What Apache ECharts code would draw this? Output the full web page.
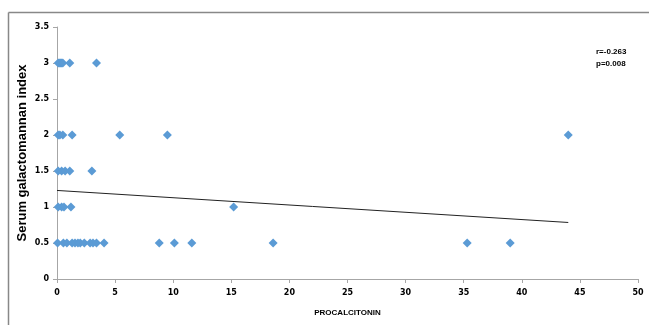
<!DOCTYPE html>
<html>
<head>
<meta charset="utf-8">
<script src="https://cdn.jsdelivr.net/npm/echarts@6/dist/echarts.min.js"></script>
<style>
html,body{margin:0;padding:0;background:#fff;}
#c{width:649px;height:325px;}
</style>
</head>
<body>
<div id="c"></div>
<script>
// Procalcitonin values grouped by galactomannan index level
var pctAt3 = [0.1, 0.2, 0.3, 0.4, 0.5, 1.1, 3.4];
var pctAt2 = [0.1, 0.25, 0.5, 1.3, 5.4, 9.5, 44.0];
var pctAt15 = [0.1, 0.4, 0.7, 1.1, 3.0];
var pctAt1 = [0.1, 0.4, 0.6, 1.2, 15.2];
var pctAt05 = [0.05, 0.55, 0.85, 1.3, 1.55, 1.8, 2.0, 2.35, 2.85, 3.1, 3.4, 4.05, 8.8, 10.1, 11.6, 18.6, 35.3, 39.0];
var levels = [3, 2, 1.5, 1, 0.5];
var groups = [pctAt3, pctAt2, pctAt15, pctAt1, pctAt05];
// Trend line endpoints (x, y)
var trendX = [0, 44];
var trendY = [1.23, 0.785];
var xTicks = [0, 5, 10, 15, 20, 25, 30, 35, 40, 45, 50];
var yTicks = [0, 0.5, 1, 1.5, 2, 2.5, 3, 3.5];
var statsText = ['r=-0.263', 'p=0.008'];

var pts = [];
groups.forEach(function (g, i) {
  g.forEach(function (x) { pts.push([x, levels[i]]); });
});

var chart = echarts.init(document.getElementById('c'), null, {renderer: 'canvas'});
var tickFont = {fontFamily: 'DejaVu Sans', fontWeight: 'bold', fontSize: 8, color: '#000'};
chart.setOption({
  animation: false,
  backgroundColor: '#fff',
  grid: {left: 57, right: 11, top: 27, bottom: 46, containLabel: false},
  xAxis: {
    type: 'value', min: 0, max: 50, interval: 5,
    name: 'PROCALCITONIN', nameLocation: 'middle', nameGap: 30,
    nameTextStyle: {fontFamily: 'Liberation Sans Narrow, Liberation Sans', fontWeight: 'bold', fontSize: 8, color: '#000'},
    axisLine: {lineStyle: {color: '#a6a6a6', width: 1}},
    axisTick: {show: true, length: 4, lineStyle: {color: '#a6a6a6'}},
    axisLabel: Object.assign({margin: 10, formatter: function (v) { return xTicks.indexOf(v) >= 0 ? String(v) : ''; }}, tickFont),
    splitLine: {show: false}
  },
  yAxis: {
    type: 'value', min: 0, max: 3.5, interval: 0.5,
    name: 'Serum galactomannan index', nameLocation: 'middle', nameGap: 28,
    nameMoveOverlap: false,
    nameTextStyle: {fontFamily: 'Liberation Sans', fontWeight: 'bold', fontSize: 13, color: '#000'},
    axisLine: {show: true, lineStyle: {color: '#a6a6a6', width: 1}},
    axisTick: {show: true, length: 4, lineStyle: {color: '#a6a6a6'}},
    axisLabel: Object.assign({margin: 8, formatter: function (v) { return yTicks.indexOf(v) >= 0 ? String(v) : ''; }}, tickFont),
    splitLine: {show: false}
  },
  graphic: [
    {type: 'line', shape: {x1: 8.5, y1: 12.5, x2: 649, y2: 12.5}, style: {stroke: '#888', lineWidth: 1.5}},
    {type: 'line', shape: {x1: 8.5, y1: 12.5, x2: 8.5, y2: 325}, style: {stroke: '#888', lineWidth: 1.5}},
    {type: 'text', left: 596, top: 48, style: {text: statsText[0], font: 'bold 8px Liberation Sans Narrow, Liberation Sans', fill: '#000'}},
    {type: 'text', left: 596, top: 60, style: {text: statsText[1], font: 'bold 8px Liberation Sans Narrow, Liberation Sans', fill: '#000'}}
  ],
  series: [
    {
      type: 'line', data: [[trendX[0], trendY[0]], [trendX[1], trendY[1]]],
      symbol: 'none', lineStyle: {color: '#222', width: 1}, silent: true, z: 1
    },
    {
      type: 'scatter', data: pts, symbol: 'diamond', symbolSize: [9, 9],
      itemStyle: {color: '#5B9BD5', opacity: 1}, z: 2
    }
  ]
});
</script>
</body>
</html>
